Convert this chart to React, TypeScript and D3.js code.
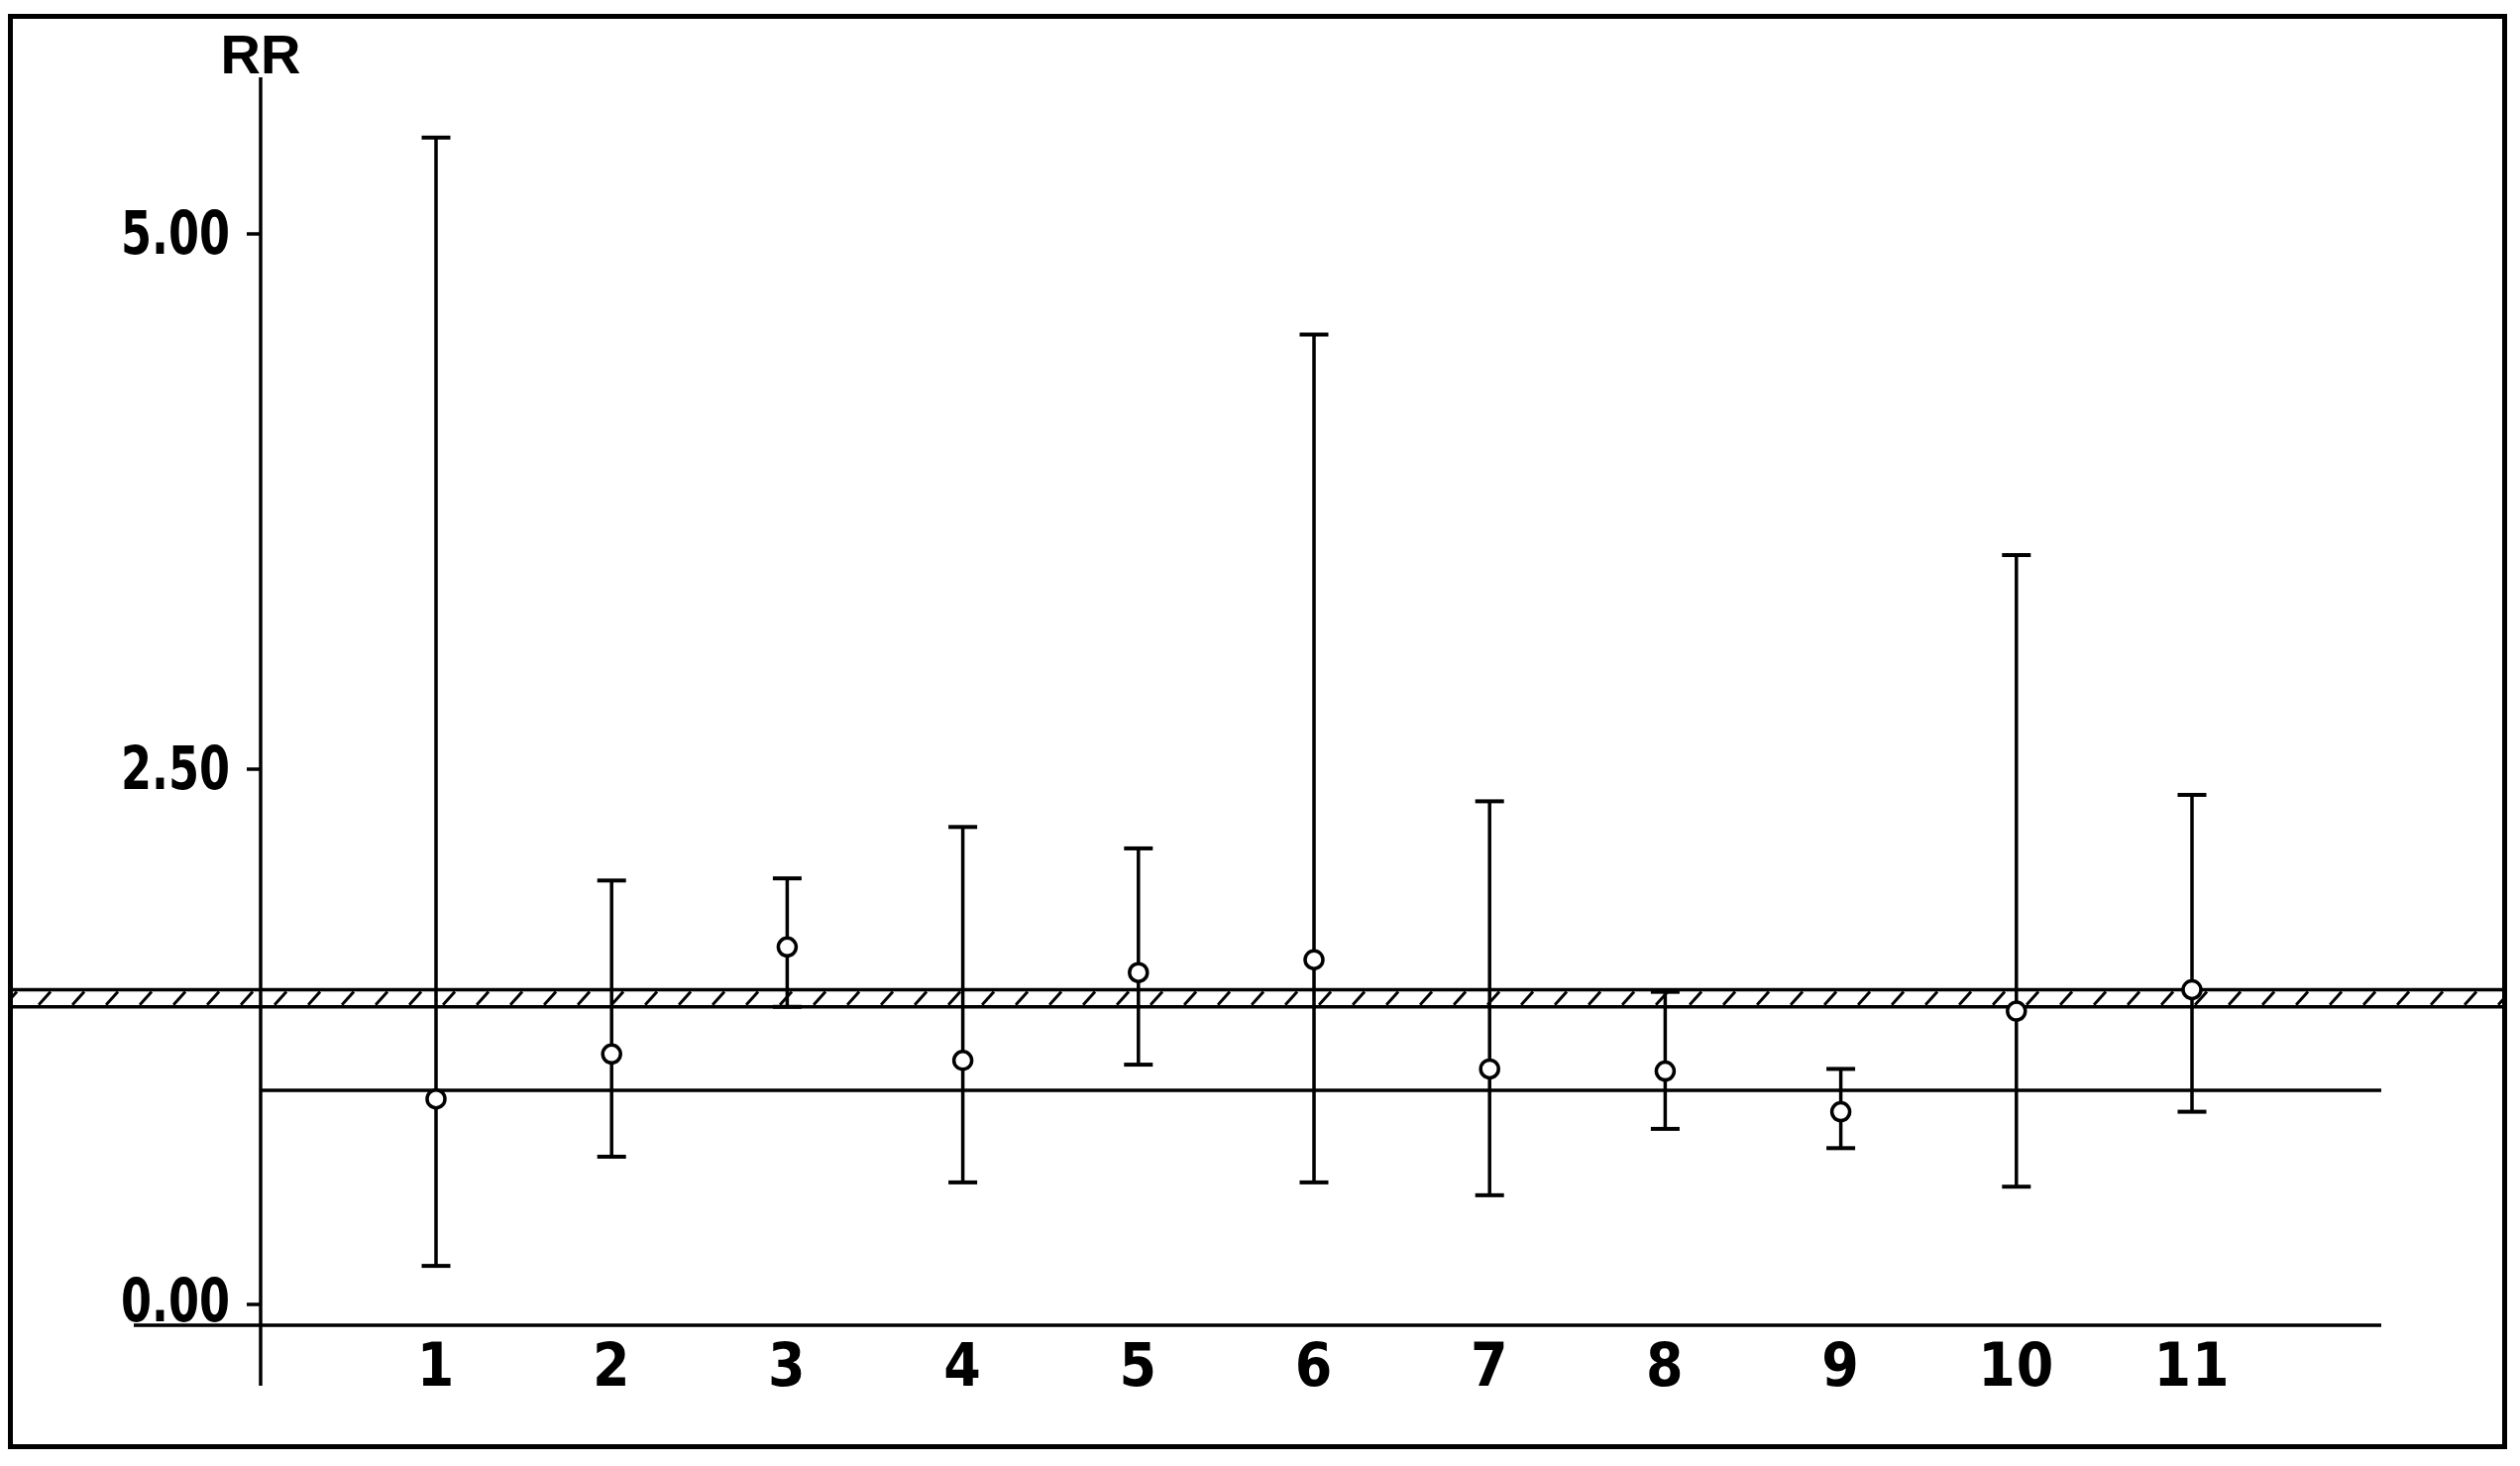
import React from 'react';
import * as d3 from 'd3';

// Relative risk per study, with confidence limits
const studies = ['1', '2', '3', '4', '5', '6', '7', '8', '9', '10', '11'];
const rr = [0.96, 1.17, 1.67, 1.14, 1.55, 1.61, 1.10, 1.09, 0.90, 1.37, 1.47];
const lower = [0.18, 0.69, 1.39, 0.57, 1.12, 0.57, 0.51, 0.82, 0.73, 0.55, 0.90];
const upper = [5.45, 1.98, 1.99, 2.23, 2.13, 4.53, 2.35, 1.46, 1.10, 3.50, 2.38];

// pooled band and reference value
const bandLow = 1.39;
const bandHigh = 1.47;
const refValue = 1;

const yTicks = [0, 2.5, 5];
const yTickLabels = ['0.00', '2.50', '5.00'];

const W = 2543;
const H = 1479;
const axisX = 263;
const baseY = 1337;

const App = () => {
  const x = d3.scaleLinear().domain([1, 11]).range([440, 2212]);
  const y = d3.scaleLinear().domain([0, 5]).range([1316, 236]);

  const font = '"Liberation Sans Narrow", "DejaVu Sans Condensed", sans-serif';
  const capW = 29;
  const lw = 3.5;

  return (
    <svg
      width={W}
      height={H}
      style={{ position: 'absolute', left: 0, top: 0, background: '#fff' }}
    >
      <defs>
        <pattern id="hatch" patternUnits="userSpaceOnUse" x={4} y={0} width={34} height={H}>
          <line
            x1={1}
            y1={y(bandLow) - 2}
            x2={13}
            y2={y(bandHigh) + 2}
            stroke="#000"
            strokeWidth={3}
          />
        </pattern>
      </defs>

      {/* frame */}
      <rect x={10.5} y={16.5} width={2517} height={1443} fill="none" stroke="#000" strokeWidth={5} />

      {/* hatched band */}
      <rect
        x={13}
        y={y(bandHigh)}
        width={2512}
        height={y(bandLow) - y(bandHigh)}
        fill="url(#hatch)"
      />
      <line x1={13} x2={2525} y1={y(bandHigh)} y2={y(bandHigh)} stroke="#000" strokeWidth={lw} />
      <line x1={13} x2={2525} y1={y(bandLow)} y2={y(bandLow)} stroke="#000" strokeWidth={lw} />

      {/* y axis */}
      <line x1={axisX} x2={axisX} y1={78} y2={1398} stroke="#000" strokeWidth={lw} />
      <text
        x={axisX}
        y={74}
        textAnchor="middle"
        fontFamily='"Liberation Sans", Arial, sans-serif'
        fontWeight="bold"
        fontSize={56}
      >
        RR
      </text>
      {yTicks.map((t, i) => (
        <g key={t}>
          <line x1={axisX - 14} x2={axisX} y1={y(t)} y2={y(t)} stroke="#000" strokeWidth={lw} />
          <text
            x={122}
            y={Math.min(y(t) + 20, 1333)}
            fontFamily={font}
            fontWeight="bold"
            fontSize={60}
            textLength={110}
            lengthAdjust="spacingAndGlyphs"
          >
            {yTickLabels[i]}
          </text>
        </g>
      ))}

      {/* x axis */}
      <line x1={135} x2={2403} y1={baseY} y2={baseY} stroke="#000" strokeWidth={lw} />
      {studies.map((s, i) => (
        <text
          key={s}
          x={x(i + 1)}
          y={1398}
          textAnchor="middle"
          fontFamily={font}
          fontWeight="bold"
          fontSize={60}
          letterSpacing={1}
        >
          {s}
        </text>
      ))}

      {/* reference line */}
      <line x1={axisX} x2={2403} y1={y(refValue)} y2={y(refValue)} stroke="#000" strokeWidth={lw} />

      {/* error bars */}
      {studies.map((s, i) => {
        const cx = x(i + 1);
        return (
          <g key={s} stroke="#000">
            <line x1={cx} x2={cx} y1={y(upper[i])} y2={y(lower[i])} strokeWidth={lw} />
            <line x1={cx - capW / 2} x2={cx + capW / 2} y1={y(upper[i])} y2={y(upper[i])} strokeWidth={4} />
            <line x1={cx - capW / 2} x2={cx + capW / 2} y1={y(lower[i])} y2={y(lower[i])} strokeWidth={4} />
            <circle cx={cx} cy={y(rr[i])} r={9} fill="#fff" strokeWidth={3.5} />
          </g>
        );
      })}
    </svg>
  );
};

export default App;
